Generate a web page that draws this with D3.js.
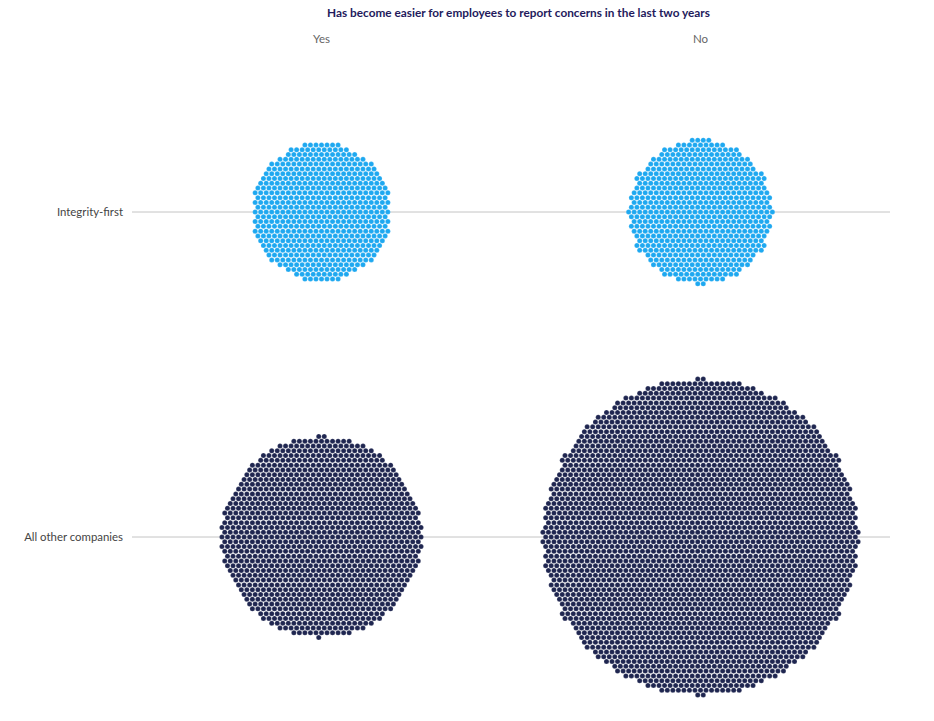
<!DOCTYPE html>
<html>
<head>
<meta charset="utf-8">
<script src="https://cdn.jsdelivr.net/npm/d3@7"></script>
<style>
  body { margin: 0; background: #fff; }
  text { font-family: "Source Sans Pro", Lato, "Noto Sans", sans-serif; }
</style>
</head>
<body>
<svg id="mainsvg" width="934" height="721"></svg>
<script>
const svg = d3.select('#mainsvg');

// data (one dot per respondent)
const answers = ['Yes', 'No'];
const groups = ['Integrity-first', 'All other companies'];
const integrityCounts = [572, 615];
const otherCounts = [1192, 2961];
const groupColors = ['#1ea8f0', '#1f2650'];
const title = 'Has become easier for employees to report concerns in the last two years';

const counts = [integrityCounts, otherCounts];

const xScale = d3.scaleBand().domain(answers).range([132, 890]);
const yScale = d3.scaleBand().domain(groups).range([49.5, 699.5]);

const step = 5.53;            // distance between dot centres
const rowH = step * Math.sqrt(3) / 2;

// n lattice points closest to the centre, hexagonal grid
function hexPack(n) {
    const k = Math.ceil(Math.sqrt(n)) + 4;
    const pts = [];
    for (let j = -k; j <= k; j++) {
        for (let i = -k; i <= k; i++) {
            const x = (i + (Math.abs(j) % 2 ? 0.5 : 0)) * step;
            const y = j * rowH;
            pts.push({x, y, d: x * x + y * y});
        }
    }
    pts.sort((a, b) => a.d - b.d || a.y - b.y || a.x - b.x);
    return pts.slice(0, n);
}

// title + column labels
svg.append('text')
    .attr('x', 518.5).attr('y', 17)
    .attr('text-anchor', 'middle')
    .style('font-size', '11.8px').style('font-weight', 'bold')
    .style('fill', '#231a5c')
    .text(title);

svg.selectAll('.col-label').data(answers).enter().append('text')
    .attr('class', 'col-label')
    .attr('x', d => xScale(d) + xScale.bandwidth() / 2)
    .attr('y', 43)
    .attr('text-anchor', 'middle')
    .style('font-size', '11.5px').style('fill', '#666')
    .text(d => d);

// row gridlines + labels
const rows = svg.selectAll('.row').data(groups).enter().append('g')
    .attr('class', 'row')
    .attr('transform', d => `translate(0,${yScale(d) + yScale.bandwidth() / 2})`);

rows.append('line')
    .attr('x1', 132).attr('x2', 890)
    .attr('stroke', '#c4c4c4').attr('stroke-width', 1);

rows.append('text')
    .attr('x', 123).attr('dy', '0.35em')
    .attr('text-anchor', 'end')
    .style('font-size', '11.4px').style('fill', '#444')
    .text(d => d);

// dot clusters
groups.forEach((g, gi) => {
    answers.forEach((a, ai) => {
        const cx = xScale(a) + xScale.bandwidth() / 2;
        const cy = yScale(g) + yScale.bandwidth() / 2;
        svg.append('g')
            .attr('transform', `translate(${cx},${cy})`)
            .selectAll('circle')
            .data(hexPack(counts[gi][ai]))
            .enter().append('circle')
            .attr('cx', d => d.x)
            .attr('cy', d => d.y)
            .attr('r', 2.5)
            .attr('fill', groupColors[gi])
            .attr('stroke', '#fff')
            .attr('stroke-opacity', 0.35)
            .attr('stroke-width', 0.5);
    });
});
</script>
</body>
</html>
